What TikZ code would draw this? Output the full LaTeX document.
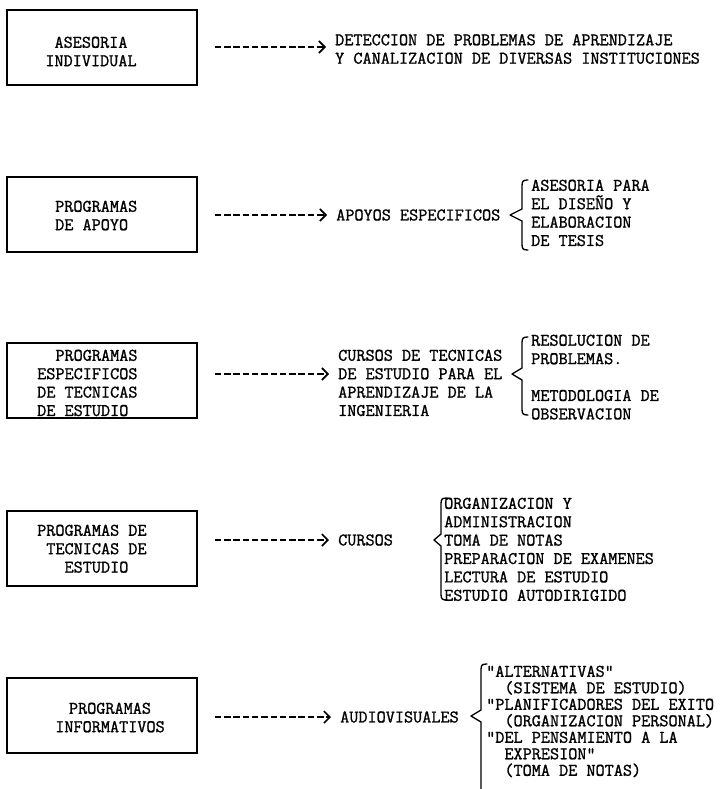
\documentclass[tikz,border=0pt]{standalone}
\usepackage{fontspec}
\newfontfamily\twfont{lmmono12-regular.otf}[FakeBold=1.2]
\usetikzlibrary{arrows.meta}
\newcommand\tw{\fontsize{17.7}{18.4}\selectfont\twfont}
\newcommand\twtight{\fontsize{17.7}{16.5}\selectfont\twfont}
\newcommand\tbrace[5]{% bar x, tip x, top y, tip y, bottom y
  \draw[brc] (#1+6,#3) .. controls (#1+1,#3) and (#1,#3+1) .. (#1,#3+6)
    -- (#1,#4-6) -- (#2,#4) -- (#1,#4+6) -- (#1,#5-6)
    .. controls (#1,#5-1) and (#1+1,#5) .. (#1+6,#5);}
\begin{document}
\begin{tikzpicture}[x=1pt,y=-1pt,
  box/.style={draw, line width=1.5pt, minimum width=190pt, minimum height=75pt, inner sep=0pt},
  txt/.style={font=\tw, inner sep=0pt, align=left},
  ctxt/.style={font=\tw, inner sep=0pt, align=center},
  arr/.style={line width=1.4pt, dash pattern=on 6.5pt off 2.8pt,
    -{Straight Barb[length=6pt,width=12pt,line width=1.6pt]}, shorten <=17pt, shorten >=9pt},
  brc/.style={line width=1.3pt, line cap=round, line join=round}]
\useasboundingbox (0,0) rectangle (725,789);

% ---------- row 1
\node[box] (b1) at (102,47.5) {};
\node[ctxt, anchor=north] (t1) at (91,36.5) {ASESORIA\\INDIVIDUAL};
\coordinate (a1) at (0,47);
\node[txt, anchor=north west] (m1) at (335,34) {DETECCION DE PROBLEMAS DE APRENDIZAJE\\Y CANALIZACION DE DIVERSAS INSTITUCIONES};
\draw[arr] (b1.east |- a1) -- (m1.west |- a1);

% ---------- row 2
\node[box] (b2) at (102,214.5) {};
\node[txt, anchor=north west] (t2) at (55,200.5) {PROGRAMAS\\DE APOYO};
\coordinate (a2) at (0,215);
\node[txt, anchor=west] (m2) at (336,215) {APOYOS ESPECIFICOS};
\draw[arr] (b2.east |- a2) -- (m2.west |- a2);
\tbrace{522}{510}{180}{215}{250}
\node[txt, anchor=north west] (r2) at (531,179.5) {ASESORIA PARA\\EL DISEÑO Y\\ELABORACION\\DE TESIS};

% ---------- row 3
\node[box] (b3) at (102,380.5) {};
\node[txt, anchor=north west] (t3) at (37,349.5) {~~PROGRAMAS\\ESPECIFICOS\\DE TECNICAS\\DE ESTUDIO};
\coordinate (a3) at (0,374);
\node[txt, anchor=north west] (m3) at (338,349.5) {CURSOS DE TECNICAS\\DE ESTUDIO PARA EL\\APRENDIZAJE DE LA\\INGENIERIA};
\draw[arr] (b3.east |- a3) -- (m3.west |- a3);
\tbrace{522}{512}{337}{374}{415}
\node[txt, anchor=north west] (r3) at (531,334.5) {RESOLUCION DE\\PROBLEMAS.\\[18.4pt]METODOLOGIA DE\\OBSERVACION};

% ---------- row 4
\node[box] (b4) at (102,548.5) {};
\node[txt, anchor=north west] (t4) at (37,524.5) {PROGRAMAS DE\\~TECNICAS DE\\~~~ESTUDIO};
\coordinate (a4) at (0,540);
\node[txt, anchor=west] (m4) at (338,540) {CURSOS};
\draw[arr] (b4.east |- a4) -- (m4.west |- a4);
\tbrace{441}{434}{498}{540}{600}
\node[txt, anchor=north west] (r4) at (444,497.5) {ORGANIZACION Y\\ADMINISTRACION\\TOMA DE NOTAS\\PREPARACION DE EXAMENES\\LECTURA DE ESTUDIO\\ESTUDIO AUTODIRIGIDO};

% ---------- row 5
\node[box] (b5) at (102,715.5) {};
\node[ctxt, anchor=north] (t5) at (110,702.5) {PROGRAMAS\\INFORMATIVOS};
\coordinate (a5) at (0,717);
\node[txt, anchor=west] (m5) at (340,717) {AUDIOVISUALES};
\draw[arr] (b5.east |- a5) -- (m5.west |- a5);
\tbrace{481}{471}{664}{716}{800}
\node[txt, font=\twtight, anchor=north west] (r5) at (486,665.5) {"ALTERNATIVAS"\\~~(SISTEMA DE ESTUDIO)\\"PLANIFICADORES DEL EXITO\\~~(ORGANIZACION PERSONAL)\\"DEL PENSAMIENTO A LA\\~~EXPRESION"\\~~(TOMA DE NOTAS)};
\end{tikzpicture}
\end{document}
